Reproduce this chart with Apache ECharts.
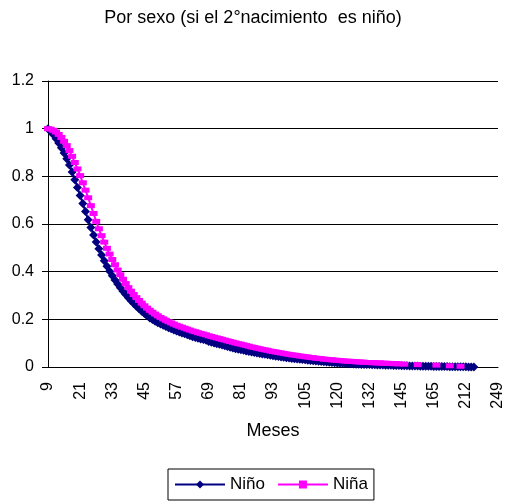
<!DOCTYPE html>
<html>
<head>
<meta charset="utf-8">
<script src="https://cdn.jsdelivr.net/npm/echarts@6/dist/echarts.min.js"></script>
<style>
html,body{margin:0;padding:0;background:#fff;}
#chart{width:506px;height:502px;}
</style>
</head>
<body>
<div id="chart"></div>
<script>
// Category months (x axis)
const categories = [
  9,10,11,12,13,14,15,16,17,18,19,20,21,22,23,24,25,26,27,28,
  29,30,31,32,33,34,35,36,37,38,39,40,41,42,43,44,45,46,47,48,
  49,50,51,52,53,54,55,56,57,58,59,60,61,62,63,64,65,66,67,68,
  69,70,71,72,73,74,75,76,77,78,79,80,81,82,83,84,85,86,87,88,
  89,90,91,92,93,94,95,96,97,98,99,100,101,102,103,104,105,
  106,107,108,109,110,111,112,114,115,117,118,
  120,
  121,122,123,124,125,126,127,128,129,130,131,
  132,
  133,134,135,136,137,138,139,140,141,143,144,
  145,
  146,147,148,150,151,153,155,156,158,160,162,
  165,
  167,169,171,174,177,180,184,189,194,200,206,
  212,
  215,218,221,225,228,232,235,238,241,244,246,
  249
].map(String);

// Series: Niño
const ninoValues = [
  1.000,0.988,0.974,0.958,0.940,0.920,0.898,0.874,0.848,0.818,
  0.786,0.753,0.720,0.686,0.652,0.618,0.585,0.554,0.524,0.496,
  0.470,0.446,0.423,0.402,0.383,0.365,0.348,0.333,0.318,0.304,
  0.291,0.278,0.266,0.255,0.244,0.234,0.224,0.215,0.206,0.199,
  0.192,0.186,0.180,0.175,0.170,0.165,0.160,0.155,0.151,0.147,
  0.143,0.139,0.135,0.131,0.127,0.124,0.121,0.118,0.115,0.112,
  0.107,0.104,0.101,0.098,0.095,0.092,0.089,0.086,0.083,0.080,
  0.077,0.075,0.072,0.070,0.067,0.065,0.063,0.061,0.059,0.057,
  0.055,0.053,0.051,0.049,0.047,0.045,0.044,0.042,0.041,0.039,
  0.038,0.036,0.035,0.034,0.032,0.031,0.030,0.028,0.027,0.026,
  0.025,0.024,0.023,0.022,0.021,0.020,0.019,0.018,0.017,0.016,
  0.016,0.015,0.014,0.014,0.013,0.012,0.012,0.011,0.011,0.010,
  0.010,0.009,0.009,0.008,0.008,0.008,0.007,0.007,0.007,0.006,
  0.006,0.006,0.005,0.005,0.005,0.004,0.004,0.004,0.004,0.003,
  0.003,0.003,0.003,0.003,0.002,0.002,0.002,0.002,0.002,0.002,
  0.001,0.001,0.001,0.001,0.001,0.001,0.001,0.000,0.000,0.000
];

// Series: Niña
const ninaValues = [
  1.000,0.998,0.993,0.986,0.976,0.963,0.947,0.929,0.908,0.884,
  0.858,0.831,0.803,0.773,0.742,0.710,0.677,0.644,0.611,0.580,
  0.551,0.524,0.498,0.474,0.451,0.429,0.407,0.387,0.368,0.350,
  0.333,0.318,0.304,0.291,0.279,0.268,0.257,0.247,0.238,0.230,
  0.222,0.215,0.208,0.202,0.196,0.190,0.185,0.180,0.175,0.171,
  0.167,0.163,0.159,0.155,0.151,0.148,0.144,0.141,0.138,0.135,
  0.131,0.128,0.125,0.122,0.119,0.116,0.113,0.110,0.107,0.104,
  0.101,0.098,0.096,0.093,0.090,0.087,0.084,0.082,0.079,0.077,
  0.074,0.072,0.070,0.067,0.065,0.063,0.061,0.059,0.057,0.055,
  0.053,0.051,0.050,0.048,0.046,0.045,0.043,0.042,0.040,0.039,
  0.037,0.036,0.035,0.033,0.032,0.031,0.030,0.029,0.028,0.027,
  0.026,0.025,0.024,0.024,0.023,0.022,0.021,0.021,0.020,0.019,
  0.019,0.018,0.018,0.017,0.017,0.016,0.016,0.015,0.015,0.014,
  0.014,0.013,null,0.012,null,null,null,null,0.010,null,
  null,null,null,null,null,0.008,null,null,null,null,
  0.005,null,null,null,0.003
];

const seriesNames = ['Niño', 'Niña'];
const chartTitle = 'Por sexo (si el 2°nacimiento  es niño)';
const xName = 'Meses';

const FONT = '"Liberation Sans", Arial, sans-serif';
const chart = echarts.init(document.getElementById('chart'), null, {renderer: 'canvas'});
chart.setOption({
  animation: false,
  backgroundColor: '#ffffff',
  textStyle: {fontFamily: FONT, color: '#000'},
  title: {
    text: chartTitle,
    left: 'center',
    top: 9,
    padding: 0,
    textStyle: {fontFamily: FONT, fontSize: 18, fontWeight: 'normal', color: '#000'}
  },
  grid: {left: 48, right: 8, top: 81, bottom: 135, containLabel: false},
  legend: {
    data: seriesNames,
    left: 168,
    top: 469,
    orient: 'horizontal',
    itemWidth: 50,
    itemHeight: 10,
    itemGap: 12,
    padding: [7, 6],
    borderColor: '#000',
    borderWidth: 1,
    backgroundColor: '#fff',
    textStyle: {fontFamily: FONT, fontSize: 17, color: '#000'}
  },
  xAxis: {
    type: 'category',
    data: categories,
    boundaryGap: false,
    axisLine: {show: true, lineStyle: {color: '#000', width: 1}},
    axisTick: {show: false},
    axisLabel: {interval: 11, rotate: 90, margin: 15, fontSize: 16, color: '#000', fontFamily: FONT},
    splitLine: {show: false},
    name: xName,
    nameLocation: 'middle',
    nameGap: 55,
    nameTextStyle: {fontSize: 18, color: '#000', fontFamily: FONT}
  },
  yAxis: {
    type: 'value',
    min: 0,
    max: 1.2,
    interval: 0.2,
    axisLine: {show: true, lineStyle: {color: '#000', width: 1}},
    axisTick: {show: true, length: 6, lineStyle: {color: '#000'}},
    axisLabel: {margin: 14, fontSize: 16, color: '#000', fontFamily: FONT},
    splitLine: {show: true, lineStyle: {color: '#000', width: 1}}
  },
  series: [
    {
      name: seriesNames[0],
      type: 'line',
      data: ninoValues,
      showAllSymbol: true,
      symbol: 'diamond',
      symbolSize: 9,
      color: '#000080',
      itemStyle: {color: '#000080'},
      lineStyle: {color: '#000080', width: 2},
      connectNulls: false
    },
    {
      name: seriesNames[1],
      type: 'line',
      data: ninaValues,
      showAllSymbol: true,
      symbol: 'rect',
      symbolSize: [8, 5],
      color: '#ff00ff',
      itemStyle: {color: '#ff00ff'},
      lineStyle: {color: '#ff00ff', width: 2},
      connectNulls: false
    }
  ]
});
</script>
</body>
</html>
